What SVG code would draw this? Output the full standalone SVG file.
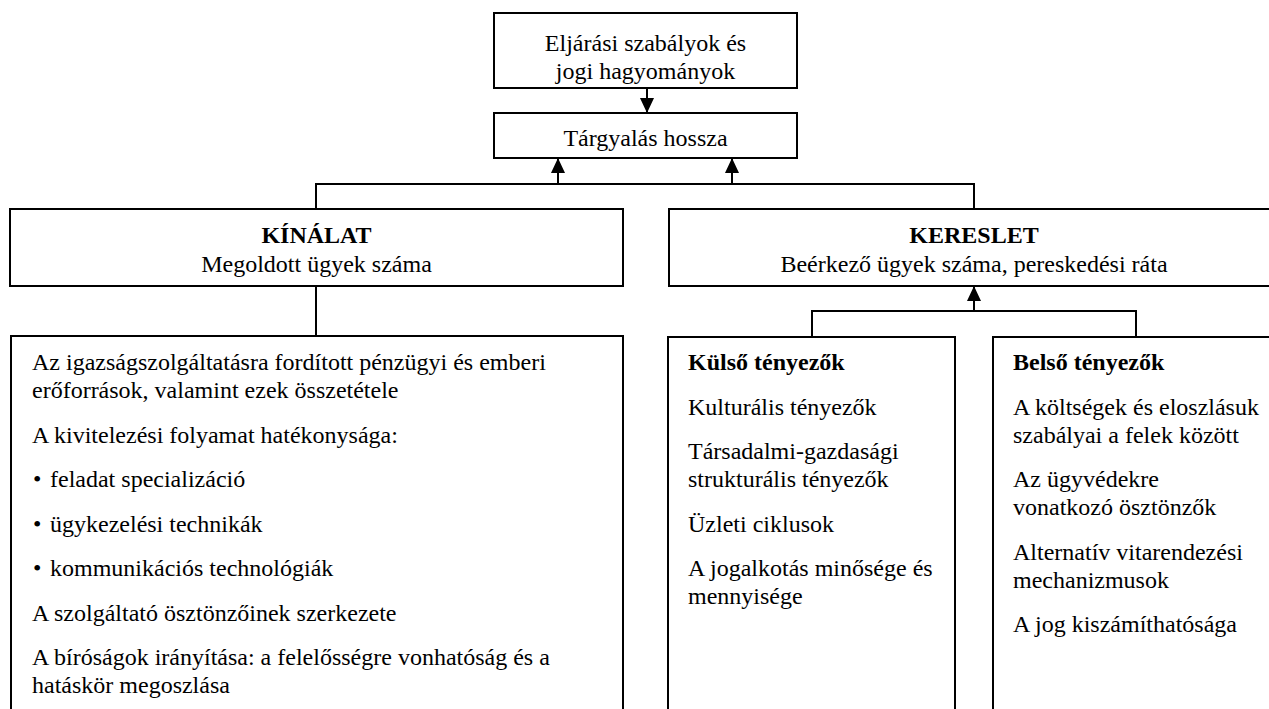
<svg xmlns="http://www.w3.org/2000/svg" width="1269" height="709" viewBox="0 0 1269 709">
<style>
.box{fill:#fff;stroke:#000;stroke-width:2}
.t{font-family:"Liberation Serif","Times New Roman",serif;font-size:24px;fill:#000}
.c{text-anchor:middle}
.b{font-weight:bold}
.ln{fill:none;stroke:#000;stroke-width:2}
</style>
<defs>
<marker id="ah" markerUnits="userSpaceOnUse" markerWidth="15" markerHeight="14" viewBox="0 0 15 14" refX="15" refY="7" orient="auto">
<path d="M0,0 L15,7 L0,14 Z" fill="#000"/>
</marker>
</defs>
<rect width="1269" height="709" fill="#fff"/>
<g id="connectors">
<line class="ln" x1="647" y1="88" x2="647" y2="113" marker-end="url(#ah)"/>
<polyline class="ln" points="316,209 316,184 974,184 974,209"/>
<line class="ln" x1="558" y1="184" x2="558" y2="158" marker-end="url(#ah)"/>
<line class="ln" x1="732" y1="184" x2="732" y2="158" marker-end="url(#ah)"/>
<line class="ln" x1="316" y1="286" x2="316" y2="336"/>
<polyline class="ln" points="812,337 812,311 1136,311 1136,337"/>
<line class="ln" x1="974" y1="311" x2="974" y2="286" marker-end="url(#ah)"/>
</g>
<g id="eljarasi">
<rect class="box" x="494" y="13" width="303" height="75"/>
<text class="t c" x="645.5" y="51">Eljárási szabályok és</text>
<text class="t c" x="645.5" y="79">jogi hagyományok</text>
</g>
<g id="targyalas">
<rect class="box" x="494" y="113" width="303" height="45"/>
<text class="t c" x="645.5" y="146">Tárgyalás hossza</text>
</g>
<g id="kinalat">
<rect class="box" x="10" y="209" width="613" height="77"/>
<text class="t c b" x="316.5" y="243">KÍNÁLAT</text>
<text class="t c" x="316.5" y="272">Megoldott ügyek száma</text>
</g>
<g id="kereslet">
<rect class="box" x="669" y="209" width="610" height="77"/>
<text class="t c b" x="974" y="243">KERESLET</text>
<text class="t c" x="974" y="272">Beérkező ügyek száma, pereskedési ráta</text>
</g>
<g id="kinalat-tenyezok">
<rect class="box" x="11" y="336" width="612" height="390"/>
<text class="t" x="32" y="370">Az igazságszolgáltatásra fordított pénzügyi és emberi</text>
<text class="t" x="32" y="398">erőforrások, valamint ezek összetétele</text>
<text class="t" x="32" y="442.5">A kivitelezési folyamat hatékonysága:</text>
<text class="t" x="33" y="487">•<tspan x="50">feladat specializáció</tspan></text>
<text class="t" x="33" y="531.5">•<tspan x="50">ügykezelési technikák</tspan></text>
<text class="t" x="33" y="576">•<tspan x="50">kommunikációs technológiák</tspan></text>
<text class="t" x="32" y="620.5">A szolgáltató ösztönzőinek szerkezete</text>
<text class="t" x="32" y="665">A bíróságok irányítása: a felelősségre vonhatóság és a</text>
<text class="t" x="32" y="693">hatáskör megoszlása</text>
</g>
<g id="kulso">
<rect class="box" x="668" y="337" width="287" height="390"/>
<text class="t b" x="688" y="370">Külső tényezők</text>
<text class="t" x="688" y="414.5">Kulturális tényezők</text>
<text class="t" x="688" y="459">Társadalmi-gazdasági</text>
<text class="t" x="688" y="487">strukturális tényezők</text>
<text class="t" x="688" y="531.5">Üzleti ciklusok</text>
<text class="t" x="688" y="576">A jogalkotás minősége és</text>
<text class="t" x="688" y="604">mennyisége</text>
</g>
<g id="belso">
<rect class="box" x="993" y="337" width="286" height="390"/>
<text class="t b" x="1013" y="370">Belső tényezők</text>
<text class="t" x="1013" y="414.5">A költségek és eloszlásuk</text>
<text class="t" x="1013" y="442.5">szabályai a felek között</text>
<text class="t" x="1013" y="487">Az ügyvédekre</text>
<text class="t" x="1013" y="515">vonatkozó ösztönzők</text>
<text class="t" x="1013" y="559.5">Alternatív vitarendezési</text>
<text class="t" x="1013" y="587.5">mechanizmusok</text>
<text class="t" x="1013" y="632">A jog kiszámíthatósága</text>
</g>
</svg>
